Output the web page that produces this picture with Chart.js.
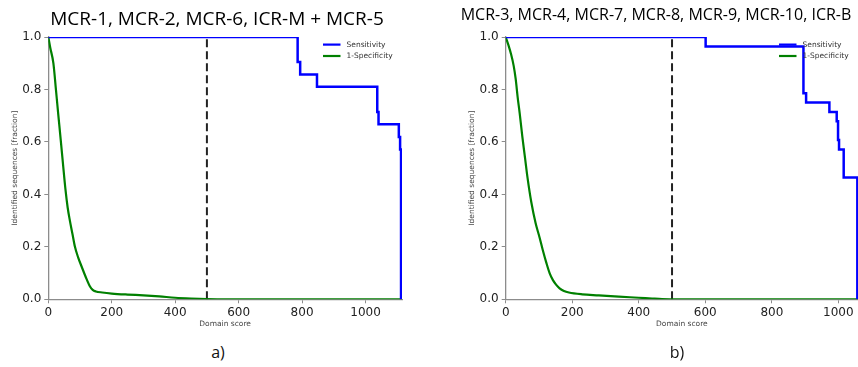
<!DOCTYPE html>
<html>
<head>
<meta charset="utf-8">
<script src="https://cdn.jsdelivr.net/npm/chart.js@4.4.1/dist/chart.umd.min.js"></script>
<style>
  html, body { margin: 0; padding: 0; background: #fff; }
  body { width: 858px; height: 367px; position: relative; overflow: hidden; }
  canvas { position: absolute; top: 0; }
  #chartA { left: 0; }
  #chartB { left: 430px; }
  .cap { position: absolute; top: 341px; font-family: 'Open Sans'; font-size: 16px; color: #111; transform: translateX(-50%); }
</style>
</head>
<body>
<canvas id="chartA" width="434" height="340"></canvas>
<canvas id="chartB" width="428" height="340"></canvas>
<div class="cap" style="left:218px">a)</div>
<div class="cap" style="left:677px">b)</div>
<script>
// panel a) MCR-1, MCR-2, MCR-6, ICR-M + MCR-5
const sensA_x = [0, 786, 794, 847, 1037, 1041, 1105, 1109, 1112]
const sensA_y = [1.0, 0.905, 0.857, 0.810, 0.714, 0.667, 0.619, 0.571, 0.0]
const specA_x = [0, 6, 16, 24, 31, 39, 46, 54, 61, 68, 76, 84, 94, 105, 118, 131, 140, 150, 170, 200, 250, 300, 350, 400, 450, 500, 560, 1115]
const specA_y = [1.0, 0.96, 0.90, 0.80, 0.71, 0.61, 0.52, 0.42, 0.35, 0.30, 0.25, 0.20, 0.16, 0.125, 0.085, 0.05, 0.036, 0.030, 0.026, 0.022, 0.018, 0.015, 0.011, 0.006, 0.003, 0.001, 0, 0]

// panel b) MCR-3, MCR-4, MCR-7, MCR-8, MCR-9, MCR-10, ICR-B
const sensB_x = [0, 601, 895, 903, 973, 995, 999, 1002, 1016, 1057]
const sensB_y = [1.0, 0.964, 0.786, 0.750, 0.714, 0.679, 0.607, 0.571, 0.464, 0.0]
const specB_x = [0, 8, 16, 24, 30, 36, 42, 50, 58, 66, 77, 90, 102, 112, 122, 132, 142, 152, 162, 175, 190, 230, 280, 340, 400, 440, 470, 520, 1059]
const specB_y = [1.0, 0.97, 0.935, 0.89, 0.84, 0.77, 0.71, 0.62, 0.54, 0.46, 0.37, 0.29, 0.235, 0.185, 0.14, 0.10, 0.073, 0.055, 0.042, 0.032, 0.026, 0.019, 0.015, 0.010, 0.006, 0.003, 0.001, 0, 0]

// score cutoff (dashed line)
const cutoff_x = [500, 500]
const cutoff_y = [0, 1]

const xTicks = [0, 200, 400, 600, 800, 1000]
const yTicks = [0, 0.2, 0.4, 0.6, 0.8, 1.0]

function toPoints(xs, ys) {
    return xs.map((x, i) => ({x: x, y: ys[i]}))
}

// small legend drawn in the top right corner of the plot
const lineLegend = {
    id: 'lineLegend',
    afterDatasetsDraw(chart) {
        const {ctx, chartArea} = chart
        const items = chart.data.datasets.filter(d => d.label)
        ctx.save()
        items.forEach((d, i) => {
            let y = chartArea.top + 7.6 + i * 11.4
            ctx.strokeStyle = d.borderColor
            ctx.lineWidth = 2.2
            ctx.beginPath()
            ctx.moveTo(chartArea.right - 79, y)
            ctx.lineTo(chartArea.right - 61.5, y)
            ctx.stroke()
            ctx.fillStyle = '#333'
            ctx.font = '7.5px "DejaVu Sans"'
            ctx.textBaseline = 'middle'
            ctx.fillText(d.label, chartArea.right - 55.5, y)
        })
        ctx.restore()
    }
}

const axisColor = '#8c8c8c'
const tickFont = {family: 'DejaVu Sans', size: 12}
const smallFont = {family: 'DejaVu Sans', size: 7.5}

function makeChart(id, p) {
    let scales = {
        x: {
            type: 'linear', min: 0, max: p.xMax,
            border: {color: axisColor, width: 1.3},
            grid: {drawOnChartArea: false, color: axisColor, tickLength: 4},
            afterBuildTicks: s => { s.ticks = xTicks.filter(v => v <= p.xMax).map(v => ({value: v})) },
            ticks: {color: '#222', font: tickFont, padding: 2, maxRotation: 0, callback: v => String(v)},
            title: {display: true, text: 'Domain score', color: '#444', font: smallFont, padding: {top: 0, bottom: 11.8}},
            afterFit: s => { s.height = 40.7 }
        },
        y: {
            type: 'linear', min: 0, max: 1,
            border: {color: axisColor, width: 1.3},
            grid: {drawOnChartArea: false, color: axisColor, tickLength: 4},
            afterBuildTicks: s => { s.ticks = yTicks.map(v => ({value: v})) },
            ticks: {color: '#222', font: tickFont, padding: 3, callback: v => v.toFixed(1)},
            title: {display: true, text: 'Identified sequences [fraction]', color: '#444', font: smallFont, padding: {top: p.yTitlePad, bottom: 0}},
            afterFit: s => { s.width = p.yWidth }
        }
    }
    if (p.rightGap) {
        // empty box on the right so the title stays centred on the panel
        scales.yPad = {
            position: 'right', display: true,
            grid: {display: false}, border: {display: false}, ticks: {display: false},
            afterFit: s => { s.width = p.rightGap }
        }
    }

    return new Chart(document.getElementById(id), {
        type: 'line',
        data: {
            datasets: [
                {
                    label: 'Sensitivity', data: toPoints(p.sensX, p.sensY),
                    borderColor: '#0000ff', borderWidth: 2.5, stepped: true,
                    pointRadius: 0, fill: false
                },
                {
                    label: '1-Specificity', data: toPoints(p.specX, p.specY),
                    borderColor: '#008000', borderWidth: 2.2, cubicInterpolationMode: 'monotone',
                    pointRadius: 0, fill: false
                },
                {
                    label: '', data: toPoints(cutoff_x, cutoff_y),
                    borderColor: '#222', borderWidth: 2, borderDash: [8, 4],
                    pointRadius: 0, fill: false
                }
            ]
        },
        options: {
            responsive: false,
            animation: false,
            layout: {padding: {left: p.padLeft, right: 0, top: 0, bottom: 0}},
            scales: scales,
            plugins: {
                legend: {display: false},
                tooltip: {enabled: false},
                title: {
                    display: true, text: p.title, color: '#000',
                    font: {family: 'Open Sans', size: p.titleSize, weight: 'normal'},
                    padding: p.titlePad
                }
            }
        },
        plugins: [lineLegend]
    })
}

makeChart('chartA', {
    title: 'MCR-1, MCR-2, MCR-6, ICR-M + MCR-5', titleSize: 19, titlePad: {top: 8.6, bottom: 5.6},
    sensX: sensA_x, sensY: sensA_y, specX: specA_x, specY: specA_y,
    xMax: 1115, padLeft: 0, yWidth: 48.3, yTitlePad: 10.5, rightGap: 32
})

makeChart('chartB', {
    title: 'MCR-3, MCR-4, MCR-7, MCR-8, MCR-9, MCR-10, ICR-B', titleSize: 16, titlePad: {top: 6.1, bottom: 11.7},
    sensX: sensB_x, sensY: sensB_y, specX: specB_x, specY: specB_y,
    xMax: 1059, padLeft: 24, yWidth: 51.7, yTitlePad: 13.2, rightGap: 0
})
</script>
</body>
</html>
